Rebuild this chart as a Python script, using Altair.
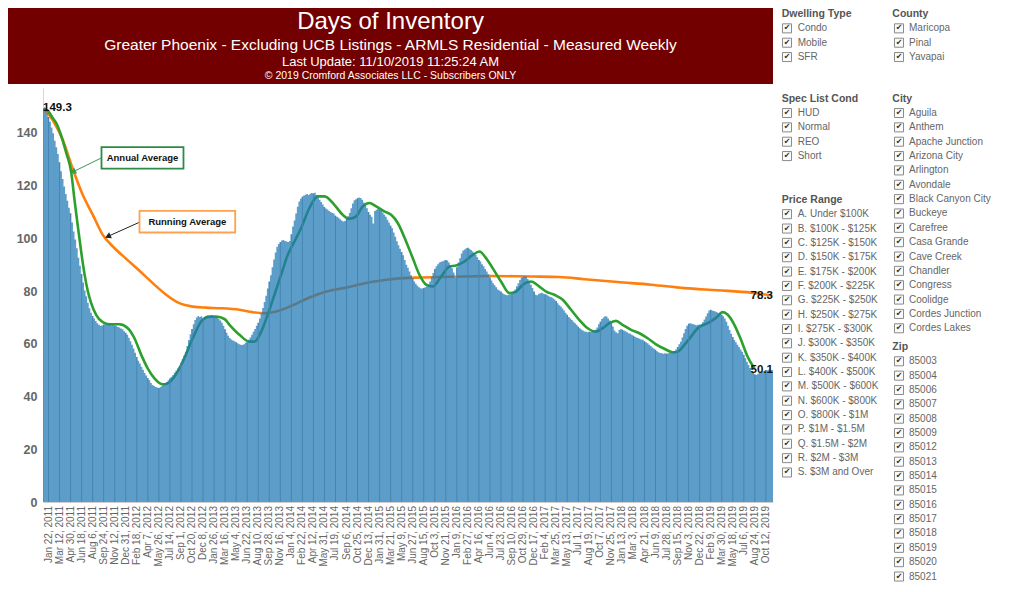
import math
import altair as alt
import pandas as pd

# ---------------- text ----------------
TITLE = "Days of Inventory"
SUBTITLE = "Greater Phoenix - Excluding UCB Listings - ARMLS Residential - Measured Weekly"
UPDATE = "Last Update: 11/10/2019 11:25:24 AM"
COPYRIGHT = "\u00a9 2019 Cromford Associates LLC - Subscribers ONLY"

# x tick labels (every 7th week, starting with week index 3)
TICK_LABELS = [
    "Jan 22, 2011", "Mar 12, 2011", "Apr 30, 2011", "Jun 18, 2011", "Aug 6, 2011", "Sep 24, 2011",
    "Nov 12, 2011", "Dec 31, 2011", "Feb 18, 2012", "Apr 7, 2012", "May 26, 2012", "Jul 14, 2012",
    "Sep 1, 2012", "Oct 20, 2012", "Dec 8, 2012", "Jan 26, 2013", "Mar 16, 2013", "May 4, 2013",
    "Jun 22, 2013", "Aug 10, 2013", "Sep 28, 2013", "Nov 16, 2013", "Jan 4, 2014", "Feb 22, 2014",
    "Apr 12, 2014", "May 31, 2014", "Jul 19, 2014", "Sep 6, 2014", "Oct 25, 2014", "Dec 13, 2014",
    "Jan 31, 2015", "Mar 21, 2015", "May 9, 2015", "Jun 27, 2015", "Aug 15, 2015", "Oct 3, 2015",
    "Nov 21, 2015", "Jan 9, 2016", "Feb 27, 2016", "Apr 16, 2016", "Jun 4, 2016", "Jul 23, 2016",
    "Sep 10, 2016", "Oct 29, 2016", "Dec 17, 2016", "Feb 4, 2017", "Mar 25, 2017", "May 13, 2017",
    "Jul 1, 2017", "Aug 19, 2017", "Oct 7, 2017", "Nov 25, 2017", "Jan 13, 2018", "Mar 3, 2018",
    "Apr 21, 2018", "Jun 9, 2018", "Jul 28, 2018", "Sep 15, 2018", "Nov 3, 2018", "Dec 22, 2018",
    "Feb 9, 2019", "Mar 30, 2019", "May 18, 2019", "Jul 6, 2019", "Aug 24, 2019", "Oct 12, 2019",
]
FIRST_TICK_WEEK = 3
TICK_STEP = 7
Y_TICKS = [0, 20, 40, 60, 80, 100, 120, 140]

# weekly days of inventory, Jan 1 2011 .. Nov 9 2019
DOI = [
    149.3, 148.5, 147.5, 146.0, 144.2, 142.0, 139.8, 137.0, 134.5, 132.0,
    128.8, 125.4, 122.5, 119.6, 116.8, 114.2, 111.6, 109.5, 106.0, 102.6,
    99.5, 96.2, 92.6, 89.6, 86.5, 83.2, 80.2, 78.0, 75.6, 73.5,
    71.8, 70.5, 69.6, 68.6, 67.8, 67.2, 66.8, 66.9, 67.3, 67.4,
    67.2, 67.5, 67.3, 67.0, 67.2, 66.9, 66.8, 66.4, 66.2, 65.8,
    65.5, 64.8, 64.2, 63.4, 62.3, 61.0, 59.6, 58.2, 56.6, 55.0,
    53.6, 52.5, 51.3, 50.2, 48.9, 48.0, 47.0, 46.2, 45.1, 44.4,
    44.0, 43.6, 43.4, 43.2, 43.6, 44.0, 44.4, 45.0, 45.5, 46.2,
    46.9, 47.5, 48.2, 49.0, 49.8, 50.6, 51.3, 52.8, 54.2, 55.6,
    57.0, 59.2, 61.4, 63.6, 65.6, 67.4, 69.0, 70.0, 70.5, 70.2,
    70.4, 69.8, 70.2, 70.3, 70.6, 70.4, 70.8, 70.7, 70.5, 70.2,
    69.8, 69.4, 68.8, 68.0, 66.8, 65.5, 64.2, 63.0, 62.2, 61.6,
    61.2, 61.0, 60.6, 60.2, 59.8, 59.6, 59.5, 59.8, 60.4, 61.0,
    61.5, 62.4, 63.4, 64.6, 65.6, 66.8, 68.0, 69.6, 71.6, 73.6,
    75.8, 78.2, 81.0, 83.6, 86.0, 89.0, 92.0, 94.6, 96.8, 97.8,
    98.6, 99.2, 99.4, 99.0, 98.8, 98.6, 99.0, 101.5, 104.5, 106.8,
    109.4, 112.0, 114.0, 115.0, 115.8, 116.2, 116.5, 116.8, 116.4, 116.9,
    117.2, 117.0, 117.3, 116.4, 115.6, 114.6, 113.8, 112.8, 111.9, 111.3,
    110.9, 110.4, 110.0, 109.6, 109.4, 108.6, 108.2, 107.8, 107.2, 106.8,
    106.4, 106.6, 107.4, 108.4, 109.6, 111.4, 113.2, 114.4, 114.8, 115.2,
    115.5, 115.3, 114.6, 113.6, 112.6, 111.4, 110.0, 108.9, 108.2, 105.6,
    110.4, 110.8, 111.2, 110.9, 110.6, 109.8, 108.9, 108.2, 107.0, 106.0,
    104.8, 103.8, 102.2, 100.6, 98.9, 97.4, 96.0, 94.8, 93.6, 91.8,
    90.0, 88.8, 87.4, 86.0, 84.9, 83.6, 82.8, 82.0, 81.4, 81.1,
    81.0, 81.2, 81.4, 81.8, 82.4, 83.6, 85.2, 86.8, 88.4, 89.4,
    90.2, 90.8, 91.1, 91.3, 91.6, 91.8, 91.6, 90.8, 89.8, 88.6,
    87.0, 84.9, 89.0, 90.8, 92.4, 94.2, 95.4, 95.8, 96.2, 96.4,
    96.0, 95.6, 95.0, 94.4, 93.8, 92.8, 91.8, 91.2, 90.2, 89.4,
    88.4, 87.4, 86.4, 85.2, 84.0, 83.0, 82.2, 81.4, 80.6, 80.2,
    79.8, 79.2, 78.8, 78.6, 78.4, 78.6, 78.8, 79.2, 79.8, 80.6,
    81.8, 83.0, 84.2, 85.0, 85.4, 85.6, 85.4, 84.6, 83.6, 82.4,
    81.2, 79.8, 78.6, 78.4, 79.0, 79.2, 79.4, 79.0, 78.8, 78.6,
    78.2, 77.8, 77.6, 77.3, 76.8, 76.2, 75.4, 74.6, 74.1, 73.4,
    72.6, 71.8, 71.0, 70.2, 69.6, 69.0, 68.4, 67.8, 67.2, 66.5,
    65.9, 65.4, 65.0, 64.7, 64.6, 64.4, 64.6, 64.6, 64.8, 65.0,
    65.3, 66.2, 67.4, 68.4, 69.4, 70.0, 70.4, 70.3, 69.6, 68.8,
    67.8, 66.6, 65.0, 64.4, 64.0, 65.2, 65.6, 65.3, 65.0, 64.8,
    64.4, 64.0, 63.8, 63.4, 63.0, 62.7, 62.4, 62.2, 61.9, 61.6,
    61.5, 61.0, 60.6, 60.2, 59.6, 59.2, 58.6, 58.2, 57.7, 57.2,
    56.8, 56.5, 56.4, 56.2, 56.4, 56.2, 56.4, 56.5, 56.6, 56.8,
    57.0, 57.8, 58.8, 59.8, 60.8, 62.4, 64.0, 65.6, 66.8, 67.6,
    67.8, 67.6, 67.4, 67.2, 67.0, 67.2, 67.2, 67.4, 68.2, 69.2,
    70.3, 71.6, 72.6, 72.9, 72.6, 72.4, 72.2, 72.0, 71.6, 71.3,
    71.0, 70.4, 69.6, 68.4, 66.8, 65.2, 63.8, 62.6, 61.4, 60.6,
    59.6, 58.8, 57.8, 57.0, 55.8, 54.5, 53.2, 52.0, 50.8, 49.6,
    49.0, 48.4, 48.2, 48.6, 49.0, 49.4, 49.6, 49.8, 50.1, 50.0,
    50.2, 50.1, 50.1,
]

# Annual Average (green) read at week positions
GREEN_WEEK = [0, 3, 5.7, 8, 11, 14.2, 17.4, 19.5, 21.6, 23.7, 25.8, 27.9, 30, 33.2, 37.4, 41.7, 48,
              53.3, 57.5, 61.8, 65.9, 70.2, 75.5, 78.6, 82.9, 88.1, 94.5, 99.8, 105.1, 109.3, 114.6,
              117.8, 124.1, 130.4, 133.6, 137.9, 142, 146.3, 150.5, 154.7, 159, 163.2, 168.5, 173.7,
              178, 184.3, 189.6, 193.8, 198.1, 202.3, 206.5, 210.8, 216, 220.3, 224.5, 229.8, 234,
              238.3, 242.5, 246.7, 252, 257.3, 261.5, 266.8, 272, 276.3, 280.5, 284.7, 290, 295.3,
              299.6, 303.8, 309, 314.3, 318.6, 323.8, 329.1, 334.4, 339.6, 345, 350.2, 354.4, 358.7,
              362.9, 367.1, 372.5, 377.8, 383, 388.3, 393.6, 398.9, 402, 406.3, 410.5, 414.7, 421.1,
              426.4, 430.6, 433.8, 438, 442.2, 446.4, 450.7]
GREEN_VAL = [149.3, 148.0, 145.6, 143.6, 139.0, 132.5, 125.0, 114.5, 104.5, 95.0, 86.5, 80.0, 75.5,
             71.0, 68.2, 67.4, 67.4, 65.9, 62.1, 55.8, 50.7, 46.9, 44.6, 45.0, 47.6, 53.2, 62.1, 68.4,
             70.3, 70.3, 69.4, 67.2, 63.4, 60.8, 60.8, 64.6, 71.0, 78.6, 86.1, 93.7, 98.8, 103.9,
             111.5, 115.9, 115.9, 112.7, 108.9, 107.4, 108.3, 112.1, 113.4, 112.1, 110.2, 108.9,
             105.8, 98.8, 92.5, 86.1, 82.4, 81.7, 85.5, 89.3, 89.7, 91.2, 93.7, 95.0, 92.5, 88.7,
             83.6, 79.2, 79.8, 82.4, 83.6, 81.7, 79.8, 78.6, 76.7, 72.9, 69.1, 65.9, 64.6, 65.9,
             67.8, 68.7, 67.2, 65.3, 64.0, 62.1, 59.8, 58.1, 56.8, 57.0, 59.6, 62.7, 65.9, 67.8,
             69.9, 72.0, 71.0, 67.2, 61.5, 55.1, 50.7]

# Running Average (orange) read at week positions
ORANGE_WEEK = [0, 6, 12, 18.4, 24.7, 31.1, 37.4, 43.8, 52.3, 60.7, 69.1, 77.6, 86, 94.5, 103, 111.4,
               124.1, 132.5, 140, 149.5, 157.9, 166.4, 174.8, 183.3, 191.8, 200.2, 208.6, 217.1,
               228.7, 236.1, 250, 267.8, 282.6, 300, 310.1, 327, 342.9, 364, 385.2, 406.3, 427.4,
               448.6, 462]
ORANGE_VAL = [149.3, 144.5, 137.4, 126.3, 116.5, 108.9, 101.3, 96.9, 92.2, 87.7, 83.0, 78.6, 75.4,
              74.1, 73.7, 73.5, 72.9, 72.0, 71.6, 72.6, 74.6, 77.0, 79.0, 80.4, 81.3, 82.5, 83.5,
              84.3, 84.9, 85.1, 85.3, 85.5, 85.7, 85.6, 85.5, 85.3, 84.5, 83.4, 82.4, 81.1, 80.3,
              79.4, 78.3]

# callouts: text, box (week from, week to, value top, value bottom), arrow (from -> to)
CALLOUT_TEXT = ["Annual Average", "Running Average"]
CALLOUT_BOX_W0 = [36.6, 60.7]
CALLOUT_BOX_W1 = [88.6, 121.4]
CALLOUT_BOX_V0 = [134.6, 110.4]
CALLOUT_BOX_V1 = [126.4, 102.2]
CALLOUT_ARROW_W0 = [36.6, 60.7]
CALLOUT_ARROW_V0 = [130.5, 106.1]
CALLOUT_ARROW_W1 = [18.5, 40.6]
CALLOUT_ARROW_V1 = [125.2, 100.7]

# filter panel
DWELLING_TYPE = ["Condo", "Mobile", "SFR"]
COUNTY = ["Maricopa", "Pinal", "Yavapai"]
SPEC_LIST_COND = ["HUD", "Normal", "REO", "Short"]
PRICE_RANGE = ["A. Under $100K", "B. $100K - $125K", "C. $125K - $150K", "D. $150K - $175K",
               "E. $175K - $200K", "F. $200K - $225K", "G. $225K - $250K", "H. $250K - $275K",
               "I. $275K - $300K", "J. $300K - $350K", "K. $350K - $400K", "L. $400K - $500K",
               "M. $500K - $600K", "N. $600K - $800K", "O. $800K - $1M", "P. $1M - $1.5M",
               "Q. $1.5M - $2M", "R. $2M - $3M", "S. $3M and Over"]
CITY = ["Aguila", "Anthem", "Apache Junction", "Arizona City", "Arlington", "Avondale",
        "Black Canyon City", "Buckeye", "Carefree", "Casa Grande", "Cave Creek", "Chandler",
        "Congress", "Coolidge", "Cordes Junction", "Cordes Lakes"]
ZIP = ["85003", "85004", "85006", "85007", "85008", "85009", "85012", "85013", "85014",
       "85015", "85016", "85017", "85018", "85019", "85020", "85021"]

# ---------------- layout / style ----------------
FONT = "Liberation Sans"
OX, OY = 43, 88            # plot origin on the page
PW, PH = 730, 414          # plot size
PAD = {"left": OX - 8, "top": OY - 8, "right": 1016 - OX - PW, "bottom": 584 - OY - PH}
Y_MAX = 157
BAR_BLUE = "#1f77b4"
GREEN = "#2ca02c"
ORANGE = "#ff7f0e"
BANNER = "#730000"

n = len(DOI)
XS = alt.Scale(domain=[-0.5, n - 0.5], nice=False, zero=False)
YS = alt.Scale(domain=[0, Y_MAX], nice=False, zero=True)

tick_weeks = [FIRST_TICK_WEEK + TICK_STEP * k for k in range(len(TICK_LABELS))]

# x axis: domain line only; its 66 date labels are drawn by a text layer below so none is thinned
x_axis = alt.Axis(values=tick_weeks, labels=False, ticks=False, grid=False, title=None,
                  domainColor="#cfcfcf", orient="bottom")
y_axis = alt.Axis(values=Y_TICKS, labelFontSize=12.5, labelFont=FONT, labelFontWeight="bold",
                  labelColor="#666666", labelPadding=6, ticks=False, grid=False, title=None,
                  domainColor="#d6d6d6", labelFlush=False, orient="left")

X = lambda f, axis=False: alt.X(f, scale=XS, axis=x_axis) if axis else alt.X(f, scale=XS)
Y = lambda f, axis=False: alt.Y(f, scale=YS, axis=y_axis) if axis else alt.Y(f, scale=YS)

# bar silhouettes (each week spans index-0.5 .. index+0.5)
EPS = 0.002
bars = pd.DataFrame({
    "x": [i + d for i in range(n) for d in (-0.5 + EPS, 0.5 - EPS)],
    "v": [v for v in DOI for _ in (0, 1)],
})
area = alt.Chart(bars).mark_area(color=BAR_BLUE, opacity=0.72, interpolate="linear").encode(
    x=X("x:Q"), y=alt.Y("v:Q", scale=YS, stack=None),
)

ticks_df = pd.DataFrame({"x": tick_weeks, "v": [DOI[w] for w in tick_weeks],
                         "z": [0] * len(tick_weeks), "t": TICK_LABELS})
tick_rules = alt.Chart(ticks_df).mark_rule(color="#a8a8a8", strokeWidth=1).encode(
    x=X("x:Q"), y=Y("z:Q"), y2="v:Q")
tick_labels = alt.Chart(ticks_df).mark_text(angle=270, align="right", baseline="middle", font=FONT,
                                            fontSize=10, color="#666666", dx=-4).encode(
    x=X("x:Q"), y=Y("z:Q"), text="t:N")

green_df = pd.DataFrame({"x": GREEN_WEEK, "v": GREEN_VAL})
orange_df = pd.DataFrame({"x": ORANGE_WEEK, "v": ORANGE_VAL})
green = alt.Chart(green_df).mark_line(color=GREEN, strokeWidth=2.6, interpolate="monotone").encode(
    x=X("x:Q"), y=Y("v:Q"))
# first layer carries the axes
orange = alt.Chart(orange_df).mark_line(color=ORANGE, strokeWidth=2.6, interpolate="monotone").encode(
    x=X("x:Q", True), y=Y("v:Q", True))

# value labels
lab_left = pd.DataFrame({"x": [-0.5], "v": [DOI[0]], "t": [f"{DOI[0]:.1f}"]})
lab_right = pd.DataFrame({"x": [n - 0.5, n - 0.5], "v": [ORANGE_VAL[-1], DOI[-1]],
                          "t": [f"{ORANGE_VAL[-1]:.1f}", f"{DOI[-1]:.1f}"]})
labels_l = alt.Chart(lab_left).mark_text(align="left", baseline="middle", font=FONT, fontSize=11.5,
                                         fontWeight="bold", color="#111111").encode(
    x=X("x:Q"), y=Y("v:Q"), text="t:N")
labels_r = alt.Chart(lab_right).mark_text(align="right", baseline="middle", font=FONT, fontSize=11.5,
                                          fontWeight="bold", color="#111111").encode(
    x=X("x:Q"), y=Y("v:Q"), text="t:N")

# callouts
XPX = PW / n
YPX = PH / Y_MAX
layers_callout = []
box_colors = ["#2e8b46", "#ffa24f"]
arrow_colors = ["#3a9a55", "#222222"]
for k, txt in enumerate(CALLOUT_TEXT):
    dfb = pd.DataFrame({"x": [CALLOUT_BOX_W0[k]], "x2": [CALLOUT_BOX_W1[k]],
                        "y": [CALLOUT_BOX_V0[k]], "y2": [CALLOUT_BOX_V1[k]],
                        "cx": [(CALLOUT_BOX_W0[k] + CALLOUT_BOX_W1[k]) / 2],
                        "cy": [(CALLOUT_BOX_V0[k] + CALLOUT_BOX_V1[k]) / 2], "t": [txt]})
    box = alt.Chart(dfb).mark_rect(fill="white", stroke=box_colors[k], strokeWidth=1.8).encode(
        x=X("x:Q"), x2="x2:Q", y=Y("y:Q"), y2="y2:Q")
    btxt = alt.Chart(dfb).mark_text(font=FONT, fontSize=9.5, fontWeight="bold", color="#111111",
                                    baseline="middle", align="center").encode(
        x=X("cx:Q"), y=Y("cy:Q"), text="t:N")
    dfa = pd.DataFrame({"x": [CALLOUT_ARROW_W0[k]], "x2": [CALLOUT_ARROW_W1[k]],
                        "y": [CALLOUT_ARROW_V0[k]], "y2": [CALLOUT_ARROW_V1[k]]})
    line = alt.Chart(dfa).mark_rule(color=arrow_colors[k], strokeWidth=1).encode(
        x=X("x:Q"), x2="x2:Q", y=Y("y:Q"), y2="y2:Q")
    dx = (CALLOUT_ARROW_W1[k] - CALLOUT_ARROW_W0[k]) * XPX
    dy = -(CALLOUT_ARROW_V1[k] - CALLOUT_ARROW_V0[k]) * YPX
    ang = (math.degrees(math.atan2(dx, -dy)) + 360) % 360
    head = alt.Chart(dfa).mark_point(shape="triangle-up", filled=True, size=45, angle=ang,
                                     color=arrow_colors[k], opacity=1).encode(
        x=X("x2:Q"), y=Y("y2:Q"))
    layers_callout += [line, head, box, btxt]

# banner (page coordinates converted to plot-relative pixels)
one = pd.DataFrame({"a": [0]})
banner = alt.Chart(one).mark_rect(color=BANNER).encode(
    x=alt.value(8 - OX), x2=alt.value(773 - OX), y=alt.value(8 - OY), y2=alt.value(84 - OY))
cx = (8 + 773) / 2 - OX
banner_texts = []
for txt, yy, sz in [(TITLE, 22, 24), (SUBTITLE, 45, 15.5), (UPDATE, 62, 13), (COPYRIGHT, 76, 10.5)]:
    banner_texts.append(alt.Chart(one).mark_text(font=FONT, fontSize=sz, color="white",
                                                 align="center", baseline="middle").encode(
        x=alt.value(cx), y=alt.value(yy - OY), text=alt.value(txt)))

# filter panel
SIDEBAR = [("Dwelling Type", DWELLING_TYPE, 0, 0.0), ("Spec List Cond", SPEC_LIST_COND, 0, 5.9),
           ("Price Range", PRICE_RANGE, 0, 12.95), ("County", COUNTY, 1, 0.0),
           ("City", CITY, 1, 5.9), ("Zip", ZIP, 1, 23.2)]
TOP, ROW = 14.0, 14.35
HDR_X = [781.7, 892.3]
BOX_X = [787.0, 899.0]
TXT_X = [797.7, 909.0]
hdr_rows, item_rows = [], []
for head_txt, items, col, start in SIDEBAR:
    hdr_rows.append({"px": HDR_X[col] - OX, "py": TOP + start * ROW - OY, "t": head_txt})
    for k, it in enumerate(items):
        yy = TOP + (start + 1 + k) * ROW - OY
        item_rows.append({"px": TXT_X[col] - OX, "bx": BOX_X[col] - OX, "py": yy, "t": it})
hdr_df = pd.DataFrame(hdr_rows)
item_df = pd.DataFrame(item_rows)
PX = lambda f: alt.X(f, scale=None, axis=None)
PY = lambda f: alt.Y(f, scale=None, axis=None)
headers = alt.Chart(hdr_df).mark_text(font=FONT, fontSize=10.5, fontWeight="bold", color="#555555",
                                      align="left", baseline="middle").encode(
    x=PX("px:Q"), y=PY("py:Q"), text="t:N")
items_t = alt.Chart(item_df).mark_text(font=FONT, fontSize=10, color="#666666",
                                       align="left", baseline="middle").encode(
    x=PX("px:Q"), y=PY("py:Q"), text="t:N")
boxes = alt.Chart(item_df).mark_square(size=82, fill="#fafafa", stroke="#8a8a8a", strokeWidth=1,
                                       opacity=1).encode(x=PX("bx:Q"), y=PY("py:Q"))
checks = alt.Chart(item_df).mark_text(text="\u2714", font="DejaVu Sans", fontSize=8, color="#333333",
                                      align="center", baseline="middle").encode(
    x=PX("bx:Q"), y=PY("py:Q"))

chart = alt.layer(
    orange, green, tick_rules, area, tick_labels, labels_l, labels_r, *layers_callout,
    banner, *banner_texts, headers, boxes, checks, items_t,
).properties(
    width=PW, height=PH, autosize=alt.AutoSizeParams(type="none"), padding=PAD,
).configure(font=FONT, view=alt.ViewConfig(strokeWidth=0))

chart.save("out.html", embed_options={"renderer": "svg", "actions": False})
